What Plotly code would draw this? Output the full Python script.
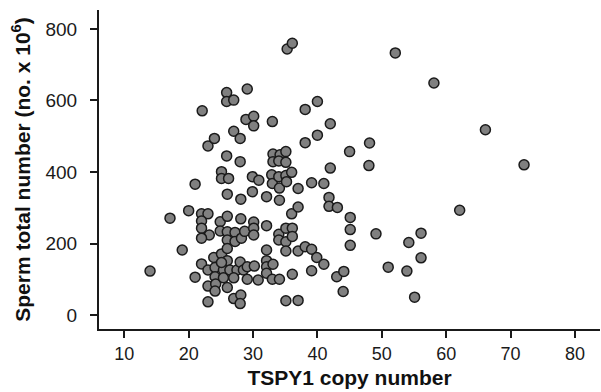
import plotly.graph_objects as go

# TSPY1 copy number (x) and sperm total number x10^6 (y)
copy_number = [
    14.0, 17.1, 19.0, 20.0, 21.0, 21.0, 22.1, 23.0, 22.0, 23.0,
    22.0, 22.0, 23.2, 22.0, 22.0, 23.0, 23.0, 23.0, 24.0, 23.9,
    24.1, 24.1, 24.2, 24.1, 25.1, 25.1, 24.9, 24.9, 25.1, 25.4,
    25.4, 25.9, 25.9, 25.9, 26.2, 26.0, 26.0, 26.0, 26.0, 26.0,
    26.0, 26.4, 26.0, 27.0, 27.0, 27.2, 27.2, 27.5, 27.0, 27.0,
    28.0, 28.0, 28.1, 28.1, 28.2, 28.0, 28.5, 28.1, 28.0, 28.7,
    29.1, 28.9, 29.1, 29.1, 30.1, 30.1, 29.9, 30.9, 29.9, 30.1,
    30.1, 30.1, 30.2, 30.8, 32.1, 32.1, 32.1, 32.1, 32.1, 32.1,
    33.0, 33.1, 33.1, 32.9, 33.0, 33.1, 33.0, 34.2, 34.0, 34.0,
    34.1, 34.1, 34.0, 34.0, 34.1, 35.1, 35.1, 35.1, 35.2, 35.1,
    35.1, 35.1, 35.1, 35.3, 36.1, 36.0, 36.0, 36.1, 36.1, 36.1,
    37.0, 37.0, 37.0, 37.0, 38.1, 38.1, 38.1, 39.1, 39.1, 39.1,
    40.0, 40.0, 39.9, 41.0, 41.0, 42.0, 42.0, 41.8, 41.8, 43.1,
    43.0, 44.1, 44.0, 45.0, 45.1, 45.1, 45.1, 48.1, 48.0, 49.1,
    51.0, 52.1, 53.9, 54.2, 55.1, 56.1, 56.1, 58.1, 62.1, 66.1,
    72.1, 25.1,
]
sperm_total = [
    123, 271, 182, 292, 366, 106, 571, 473, 283, 283,
    263, 243, 224, 215, 143, 126, 81, 37, 494, 161,
    133, 107, 87, 67, 401, 382, 261, 235, 171, 126,
    104, 622, 597, 445, 382, 338, 276, 233, 210, 186,
    152, 126, 77, 601, 514, 231, 206, 126, 104, 46,
    494, 429, 324, 269, 215, 148, 126, 56, 32, 234,
    632, 547, 135, 100, 556, 529, 387, 377, 345, 260,
    243, 224, 137, 98, 331, 250, 182, 152, 135, 117,
    541, 450, 429, 392, 368, 142, 100, 448, 431, 387,
    355, 321, 226, 210, 100, 457, 427, 390, 373, 243,
    205, 179, 40, 744, 760, 399, 283, 243, 220, 114,
    354, 302, 179, 41, 575, 482, 191, 370, 184, 124,
    597, 503, 161, 368, 142, 535, 411, 329, 304, 301,
    107, 122, 66, 457, 273, 239, 195, 481, 418, 227,
    134, 733, 123, 203, 50, 229, 160, 649, 293, 518,
    420, 147,
]

x_ticks = [10, 20, 30, 40, 50, 60, 70, 80]
y_ticks = [0, 200, 400, 600, 800]

FONT = "Liberation Sans, Arial, Helvetica, sans-serif"

fig = go.Figure(
    go.Scatter(
        x=copy_number,
        y=sperm_total,
        mode="markers",
        marker=dict(size=10, color="#808080", line=dict(color="#1a1a1a", width=1.5)),
        hoverinfo="x+y",
    )
)

axis_common = dict(
    showgrid=False,
    zeroline=False,
    showline=True,
    linecolor="#1a1a1a",
    linewidth=2,
    ticks="outside",
    ticklen=7,
    tickwidth=2,
    tickcolor="#1a1a1a",
    automargin=False,
)

fig.update_layout(
    width=601,
    height=392,
    margin=dict(l=99, r=1, t=10, b=63),
    paper_bgcolor="white",
    plot_bgcolor="white",
    showlegend=False,
    xaxis=dict(
        range=[6.07, 83.9],
        tickvals=x_ticks,
        ticklabelstandoff=0,
        tickfont=dict(family=FONT, size=18, color="#1a1a1a"),
        title=dict(text="<b>TSPY1 copy number</b>", font=dict(family=FONT, size=21, color="#111"), standoff=8),
        **axis_common,
    ),
    yaxis=dict(
        range=[-39, 853],
        tickvals=y_ticks,
        ticklabelstandoff=9,
        tickfont=dict(family=FONT, size=19, color="#1a1a1a"),
        title=dict(text="<b>Sperm total number (no. x 10<sup>6</sup>)</b>", font=dict(family=FONT, size=21, color="#111"), standoff=9),
        **axis_common,
    ),
)

fig.write_html(
    "out.html",
    config={"displayModeBar": False},
    post_script="document.body.style.margin='0';document.body.style.overflow='hidden';",
)
